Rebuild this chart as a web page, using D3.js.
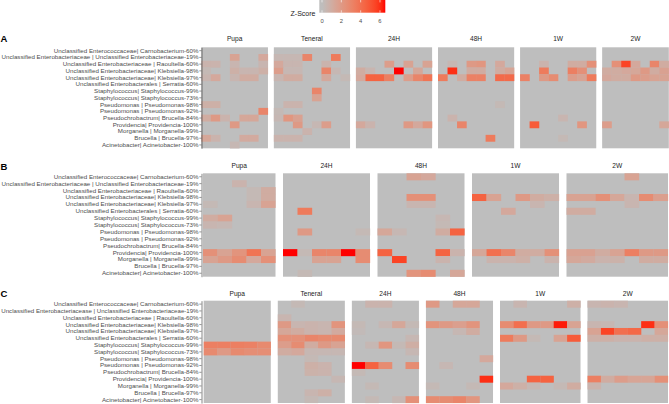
<!DOCTYPE html>
<html><head><meta charset="utf-8">
<script src="https://cdn.jsdelivr.net/npm/d3@7"></script>
<style>body{margin:0;background:#fff}svg{display:block}text{font-family:"Liberation Sans",Arial,Helvetica,sans-serif}</style>
</head><body><svg id="chart" width="669" height="404"></svg>
<script>
// ---------- DATA ----------
const rowLabels = [
 "Unclassified Enterococcaceae| Carnobacterium-60%",
 "Unclassified Enterobacteriaceae | Unclassified Enterobacteriaceae-19%",
 "Unclassified Enterobacteriaceae | Raoultella-60%",
 "Unclassified Enterobacteriaceae| Klebsiella-98%",
 "Unclassified Enterobacteriaceae| Klebsiella-97%",
 "Unclassified Enterobacterales | Serratia-60%",
 "Staphylococcus| Staphylococcus-99%",
 "Staphylococcus| Staphylococcus-73%",
 "Pseudomonas | Pseudomonas-98%",
 "Pseudomonas | Pseudomonas-92%",
 "Pseudochrobactrum| Brucella-84%",
 "Providencia| Providencia-100%",
 "Morganella | Morganella-99%",
 "Brucella | Brucella-97%",
 "Acinetobacter| Acinetobacter-100%"
];
const rowLabelsC = [
 "Unclassified Enterococcaceae| Carnobacterium-60%",
 "Unclassified Enterobacteriacease | Unclassified Enterobacteriaceae-19%",
 "Unclassified Enterobacteriaceae | Raoultella-60%",
 "Unclassified Enterobacteriaceae| Klebsiella-98%",
 "Unclassified Enterobacteriaceae| Klebsiella-97%",
 "Unclassified Enterobacterales | Serratia-60%",
 "Staphylococcus| Staphylococcus-99%",
 "Staphylococcus| Staphylococcus-73%",
 "Pseudomonas | Pseudomonas-98%",
 "Pseudomonas | Pseudomonas-92%",
 "Pseudochrobactrum| Brucella-84%",
 "Providencia| Providencia-100%",
 "Morganella | Morganella-99%",
 "Brucella | Brucella-97%",
 "Acinetobacter| Acinetobacter-100%"
];
const panelsA = ["Pupa","Teneral","24H","48H","1W","2W"];
const panelsB = ["Pupa","24H","48H","1W","2W"];
const panelsC = ["Pupa","Teneral","24H","48H","1W","2W"];
const legendTicks = [0,2,4,6];

// Z-scores, rows = taxa (top to bottom), columns = samples
const A_Pupa = [
 [0,0,0,0,0,0,0],[0,0,0,1.5,0,0,1.2],[0.6,0.6,0,0.5,0,0,0.5],[0.3,0,0,0.8,0.5,0.5,0.8],
 [0.5,1.2,0,0.5,1,1,0],[0,0,0,0,0,0,0],[0,0,0,0,0,0,0],[0,0,0,0,0,0,0],
 [0.8,0.8,0,0,0,0,0],[0,0,0,0,0,0,3],[1,2,0.6,0,1.3,1.3,0],[0,0,0,2,0,0,0],
 [0,0,0,0,0,0,0],[1.3,0.6,0,0,1.1,1.1,0],[0,0,0,0.4,0,0,0]];
const A_Teneral = [
 [0,0,0,0,0,0,0,0],[0.4,0.4,0.4,3,0,0,3.5,0],[1.2,0.5,0.5,0,0,0.6,0,0],[1.8,0.4,0.4,0,0,3,0.4,0],
 [0.5,1,1,0,0,1.2,0,0.3],[0,0,0,0,0,0,0,0],[0,0,0,0,3,0,0,0],[0,0,0,0,1.5,0,0,0],
 [0,0.6,0.6,0,0,0,0,0],[0.3,0,0,0,0,0,0,0],[0.4,2.2,1.6,0,0,0,0,0],[0,0,2,0,0.4,1.8,0,0],
 [0,0,0,0.6,0,0,0,0],[0.6,0.6,0.6,0,0,0,0,0],[0,0,0,0,0,0,0,0]];
const A_24H = [
 [0,0,0,0,0,0,0,0],[0,0,0,0,0,0,0,0],[0,0,0,1.8,0,1.5,0,1.5],[1,0.5,0,0,6.5,0,1.3,0],
 [1.2,4.5,4.5,3.3,0,1.8,3,3.8],[0,0,0,0,0,0,0,0],[0,0,0,0,0,0,0,0],[0,0,0,0,0,0,0,0],
 [0,0,0,0,0,0,0,0],[0,0,0,0,0,0,0,0],[0,0,0,0,0,0,0,0],[1.2,0.6,0,0,0,2,1.2,2.2],
 [0,0,0,0,0,0,0,0],[0,0,0,0,0,0,0,0],[0,0,0,0,0,0,0,0]];
const A_48H = [
 [0,0,0,0,0,0,0,0],[0,0,0,0,0,0,0,0],[0,0.4,0,2,2.2,0,1.2,0],[0,6,0,1,1,0,1,1.4],
 [3.5,0,1,3.2,3.2,0,4.2,4.2],[0,0,0,0,0,0,0,0],[0,0,0,0,0,0,0,0],[0,0,0,0,0,0,0,0],
 [0,0,0,0,0,0,0.3,0],[0,0,0,0,0,0,0,0],[0,0.6,0,0,0,0,0,0],[0,0,3,0,0,0,0,0],
 [0,0,0,0,0,0,0,0],[0,0,0,0,0,3.5,0,0],[0,0,0,0,0,0,0,0]];
const A_1W = [
 [0,0,0,0,0,0,0,0],[0,0,0,0,0,0,0,0],[0,0,0.6,0,0,1,1,2.5],[0,0,3.5,0,0,3.3,2.5,0],
 [3.2,0,2,2.7,0,1.8,1.5,3.5],[0,0,0,0,0,0,0,0],[0,0,0,0,0,0,0,0],[0,0,0,0,0,0,0,0],
 [0,0,0,0,0,0,0,0],[0,0,0,0,0,0,0,0],[0,0,0,0,0.5,0,0,0],[0,4.8,0,0,0,0,2.2,0],
 [0,0,0,0,0,0,0,0],[0,0,0,0,0.3,0,0,0],[0,0,0,0,0,0,0,0]];
const A_2W = [
 [0,0,0,0,0,0,0],[0,0,0,0,0,0,0],[0,2.5,5.5,1.2,0,3,1],[1,1,1.2,1.3,2,1,1.6],
 [1.2,1,1,2,1.8,1.5,1.5],[0,0,0,0,0,0,0],[0,0,0,0,0,0,0],[0,0,0,0,0,0,0],
 [0,0,0,0,0,0,0],[0,0,0,0,0,0,0],[0,0,0,0,0,0,0],[1.8,0,0,0,0,0,1.3],
 [0,0,0,0,0,0,0],[0,0,0,0,0,0,0],[0,0,0,0,0,0,0]];

const B_Pupa = [
 [0,0,0,0,0],[0,0,0.6,0,0],[0,0,0,0.3,1],[0,0,0,0.3,1],[0.3,0,0,0.5,1.5],
 [0,0,0,0,0],[1,1.5,0,0,0],[0.5,0.4,0,0,0],[0,0,0,0,0],[0,0,0,0,0],
 [0,0,0,0,0],[2.5,1.5,2.3,3.8,1.5],[1.5,2,2.7,1.2,2.5],[0,0,0,0,0],[0,0,0,0,0]];
const B_24H = [
 [0,0,0,0,0,0],[0,0,0,0,0,0],[0,0,0,0,0,0],[0,0,0,0,0,0],[0,0,0,0,0,0],
 [0,3.5,0,0,0,0],[0,0,0,0,0,0],[0,0,0,0,0,0],[0,2,0,0,0,0.3],[0,0,0,0,0,0],
 [0,0,0,0,0,0],[6.5,0.3,3,3,6.5,2.7],[0,0,1.5,1.5,0,2.7],[0,0,0,0,0,0],[0,0.3,0,0,0,0]];
const B_48H = [
 [0,0,1.5,1.2,0,0],[0,0,0,0,0,0],[0,0,0,0,0,0],[0,0,2.5,2.5,0,0],[0,0,0.5,0.5,0,0],
 [0,0,0,0,0,0],[0,0,0,0,0.4,0],[0,0,0,0,0.3,0],[1.3,0.4,0,0,1,4.5],[0,0,0,0,0,0],
 [0,0,0,0,0,0],[4.5,0,0,0,4.5,0.6],[0,5.5,0,0,0.6,0],[0,0,0,0,0,0],[0,0,2.3,2.7,0,1.3]];
const B_1W = [
 [0,0,0,0,0,0],[0,0,0,0,0,0],[0,0,0,0,0,0],[4.5,1.5,0,2,1,0.8],[0,0,0,0,0.5,0],
 [0,0,1.2,0,0,0],[0,0,0,0,0,0],[0,0,0,0,0,0],[0,0,0,0,0,0],[0,0,0,0,0,0],
 [0,0,0,0,0,0],[1.3,4,3,1,1,2.5],[0,0.6,0.6,0.8,0,0.6],[0,0,0,0,0,0],[0,0,0,0,0,0]];
const B_2W = [
 [0,0,0,0,1.5,0,0],[0,0,0,0,0,0,0],[0,0,0,0,0,0,0],[1.5,1.5,2.5,1.3,0.5,2.7,1.7],[0,0,0,0,0.5,0,0],
 [1,1,0,0,0,0,0],[0,0,0,0,0,0,0],[0,0,0,0,0,0,0],[0,0,0,0,0,0,0],[0,0,0,0,0,0,0],
 [0,0,0,0,0,0,0],[1.6,1.6,1,1.5,3.3,2,2],[1.3,1.1,0.6,0.7,0,1,1],[0,0,0,0,0,0,0],[0,0,0,0,0,0,0]];

const C_Pupa = [
 [0,0,0,0,0],[0,0,0,0,0],[0,0,0,0,0],[0,0,0,0,0],[0,0,0,0,0],
 [0,0,0,0,0],[3.3,3.3,3.3,3.2,2.8],[2.8,2,2.8,2.6,2.6],[0,0,0,0,0],[0,0,0,0,0],
 [0,0,0,0,0],[0,0,0,0,0],[0,0,0,0,0],[0,0,0,0,0],[0,0,0,0,0]];
const C_Teneral = [
 [0,0.3,0,0,0],[0,0,0,0,0],[0.5,0,0,0,0],[2,0.5,0.6,0.5,2.3],[1.3,1,0.6,0.5,1.1],
 [2.5,2.5,3,2.8,2.8],[1.8,2.7,1,2,1.5],[1,1.2,0.4,0.4,0.4],[0,0,0.3,0,0],[0,0,0.8,0.6,0],
 [0,0,0.7,0.6,0],[0,0,0,0,0.4],[0,0,0,0,0],[0,0,0.5,0.8,0],[0,0,0.3,0,0]];
const C_24H = [
 [0,0.6,0.6,0,0],[0,0,0,0,0],[0,0,0,0,0],[0.3,0,0.4,1.3,0.3],[0.2,0,0,0,0],
 [0,0,0,0,0.4],[0,0.4,2.2,0.3,0.9],[0,0,0,0,0.4],[0,0,0,0,0],[6.5,4.5,2.7,0,2.7],
 [0.3,0,0,0,0],[0,0,0,0,0],[0,0.3,0,0,0],[0,0,0,0,0],[0,0.3,0,0.4,2.5]];
const C_48H = [
 [2,0,1.3,1.3,0],[0,0,0,0,0],[0,0,0,0,0],[2.3,2,1.7,2.3,0],[0,0,0.4,1,0],
 [0,0,0,0,0],[0,0,0,0,0],[0,0,0,0,0],[0,0,0,0,1.2],[0,0.4,0,0,0],
 [0,0,0,0,0],[0,0,0,0,6],[0.3,0,0,0.3,0],[0,0,0,0,0],[2.7,2.7,3,2.2,0]];
const C_1W = [
 [0,0.5,0,0,0,0.8],[0,0,0,0,0,0],[0,0,0,0,0,0],[2.7,4,2,2,6.3,1.5],[0,0,0,0,0,0],
 [3.5,2,0.3,0,1.5,4.8],[0,0,0,0,0,0],[0,0,0,0,0,0],[0,0,0,0,0,0],[0,0,0,0,0,0],
 [0,0,0,0,0,0],[0,0,4.5,4.5,0,0],[1.2,0.8,0.4,0,0.3,1],[0,0,0,0,0,0],[0,0,0,0,0,0]];
const C_2W = [
 [0.5,0.6,0.5,0,0,0],[0,0,0,0,0,0],[0,0,0,0,0,0],[0.5,0.4,0,0,6,2.5],[1.5,5.5,4,4.3,0,1.3],
 [0.8,0.8,0.6,0.6,0.8,0.8],[0,0,0,0,0,0],[0,0,0,0,0,0],[0,0,0,0,0,0],[0,0,0,0,0,0],
 [0,0,0,0,0,0],[3.3,1,1.8,1.4,1.4,2.5],[0.6,0,0,0,0,0],[0,0,0,0,0,0],[0,0,0,0,0,0]];

// ---------- LAYOUT ----------
const figures = [
 {tag:"A", panels:panelsA, data:[A_Pupa,A_Teneral,A_24H,A_48H,A_1W,A_2W], labels:rowLabels,
  x0:201.3, x1:668.8, gap:5.9, y0:47.3, y1:148.3, titleY:40.8, tagY:42},
 {tag:"B", panels:panelsB, data:[B_Pupa,B_24H,B_48H,B_1W,B_2W], labels:rowLabels,
  x0:203, x1:668, gap:7.5, y0:173.3, y1:276.7, titleY:168.4, tagY:169.6},
 {tag:"C", panels:panelsC, data:[C_Pupa,C_Teneral,C_24H,C_48H,C_1W,C_2W], labels:rowLabelsC,
  x0:203.7, x1:668, gap:7, y0:300.7, y1:403, titleY:295.6, tagY:296.5}
];
const axisX = 201.5;
const labelMaxW = 197.2;
const bg = "#BEBEBE";
const color = d3.scaleLinear().domain([0, 6.5]).range([bg, "#FF0000"])
  .interpolate(d3.interpolateLab).clamp(true);

const svg = d3.select("#chart");

figures.forEach(f => {
  const g = svg.append("g");
  const ncols = f.data.map(m => m[0].length);
  const total = d3.sum(ncols);
  const colW = (f.x1 - f.x0 - f.gap * (ncols.length - 1)) / total;
  const y = d3.scaleBand().domain(f.labels).range([f.y0, f.y1]).padding(0);

  let px = f.x0;
  f.data.forEach((m, pi) => {
    const w = ncols[pi] * colW;
    const x = d3.scaleBand().domain(d3.range(ncols[pi])).range([px, px + w]).padding(0);
    const pg = g.append("g");
    pg.append("rect").attr("x", px).attr("y", f.y0).attr("width", w).attr("height", f.y1 - f.y0).attr("fill", bg);
    const cells = [];
    m.forEach((row, ri) => row.forEach((v, ci) => cells.push({r: ri, c: ci, v})));
    pg.selectAll("rect.cell").data(cells.filter(d => d.v > 0)).join("rect")
      .attr("class", "cell")
      .attr("x", d => x(d.c)).attr("y", d => y(f.labels[d.r]))
      .attr("width", x.bandwidth() + 0.15).attr("height", y.bandwidth() + 0.15)
      .attr("fill", d => color(d.v));
    g.append("text").attr("x", px + w / 2).attr("y", f.titleY)
      .attr("text-anchor", "middle").attr("font-size", 6.6).attr("fill", "#1a1a1a")
      .text(f.panels[pi]);
    px += w + f.gap;
  });

  const ax = g.append("g").attr("transform", `translate(${axisX},0)`)
    .call(d3.axisLeft(y).tickSize(2.2).tickPadding(0.8).tickSizeOuter(0));
  ax.select(".domain").attr("stroke", "#333").attr("stroke-width", 0.6);
  ax.selectAll(".tick line").attr("stroke", "#333").attr("stroke-width", 0.5);
  ax.selectAll(".tick text").attr("font-size", 6.2).attr("fill", "#4D4D4D")
    .attr("font-family", '"Liberation Sans",Arial,sans-serif')
    .each(function() {
      const len = this.getComputedTextLength();
      if (len > labelMaxW) {
        d3.select(this).attr("textLength", labelMaxW).attr("lengthAdjust", "spacingAndGlyphs");
      }
    });

  g.append("text").attr("x", 0.5).attr("y", f.tagY).attr("font-size", 9.5)
    .attr("font-weight", "bold").attr("fill", "#000").text(f.tag);
});

// ---------- LEGEND ----------
const lg = svg.append("g");
const lx = d3.scaleLinear().domain([-0.28, 6.55]).range([319.3, 385.3]);
const defs = svg.append("defs");
const grad = defs.append("linearGradient").attr("id", "zgrad");
d3.range(0, 1.0001, 0.05).forEach(t => {
  const v = -0.28 + t * (6.55 + 0.28);
  grad.append("stop").attr("offset", t).attr("stop-color", color(v));
});
lg.append("rect").attr("x", lx(-0.28)).attr("y", -1).attr("width", lx(6.55) - lx(-0.28))
  .attr("height", 13.7).attr("fill", "url(#zgrad)");
legendTicks.forEach(t => {
  lg.append("line").attr("x1", lx(t)).attr("x2", lx(t)).attr("y1", 0).attr("y2", 2.4)
    .attr("stroke", "#fff").attr("stroke-width", 0.6);
  lg.append("line").attr("x1", lx(t)).attr("x2", lx(t)).attr("y1", 10.3).attr("y2", 12.7)
    .attr("stroke", "#fff").attr("stroke-width", 0.6);
  lg.append("text").attr("x", lx(t)).attr("y", 22.8).attr("text-anchor", "middle")
    .attr("font-size", 5.8).attr("fill", "#4D4D4D").text(t);
});
lg.append("text").attr("x", 315.5).attr("y", 16.2).attr("text-anchor", "end")
  .attr("font-size", 7).attr("fill", "#1a1a1a").text("Z-Score");
</script></body></html>
